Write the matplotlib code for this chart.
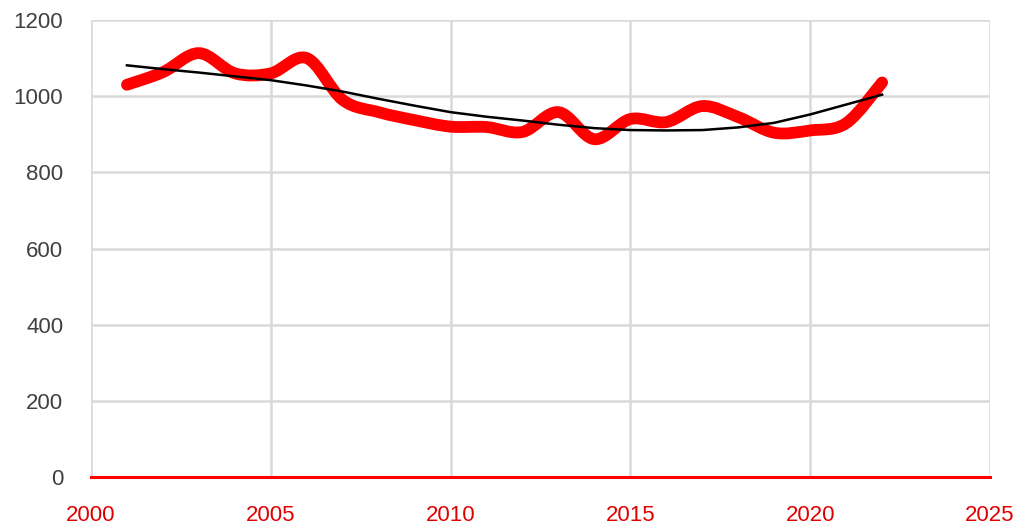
import matplotlib
matplotlib.use("Agg")
import matplotlib.pyplot as plt
from matplotlib.path import Path
from matplotlib.patches import PathPatch

years = list(range(2001, 2023))
values = [1030, 1063, 1113, 1060, 1060, 1100, 990, 958, 937, 920,
          919, 906, 958, 887, 940, 932, 974, 945, 904, 910, 929, 1036]
trend = [1081, 1071, 1062, 1052, 1042, 1028, 1012, 993, 975, 958,
         946, 936, 925, 916, 911, 910, 911, 918, 930, 952, 978, 1004]
xticks = [2000, 2005, 2010, 2015, 2020, 2025]
yticks = [0, 200, 400, 600, 800, 1000, 1200]

plt.rcParams['font.family'] = ['Liberation Sans', 'DejaVu Sans']

fig = plt.figure(figsize=(10.21, 5.24), dpi=100)
ax = fig.add_axes([91/1021, 1-477/524, (990-91)/1021, (477-20)/524])


def smooth_path(xs, ys):
    pts = list(zip(xs, ys))
    verts = [pts[0]]
    codes = [Path.MOVETO]
    n = len(pts)
    for i in range(n - 1):
        p0 = pts[i - 1] if i > 0 else pts[i]
        p1 = pts[i]
        p2 = pts[i + 1]
        p3 = pts[i + 2] if i + 2 < n else pts[i + 1]
        c1 = (p1[0] + (p2[0] - p0[0]) / 6, p1[1] + (p2[1] - p0[1]) / 6)
        c2 = (p2[0] - (p3[0] - p1[0]) / 6, p2[1] - (p3[1] - p1[1]) / 6)
        verts += [c1, c2, p2]
        codes += [Path.CURVE4] * 3
    return Path(verts, codes)


ax.add_patch(PathPatch(smooth_path(years, values), facecolor='none',
                       edgecolor='#ff0000', lw=8.5, capstyle='round',
                       joinstyle='round', zorder=3))
ax.plot(years, trend, color='black', lw=1.8, zorder=4)

ax.set_xlim(2000, 2025)
ax.set_ylim(0, 1200)
ax.set_xticks(xticks)
ax.set_yticks(yticks)
ax.grid(True, color='#d9d9d9', lw=1.8, zorder=0)
ax.set_axisbelow(True)
for s in ['top', 'right', 'left']:
    ax.spines[s].set_visible(False)
ax.spines['bottom'].set_color('#ff0000')
ax.spines['bottom'].set_linewidth(2.2)
ax.spines['bottom'].set_zorder(5)
ax.tick_params(axis='both', length=0, labelsize=16)
ax.tick_params(axis='x', colors='#e00000', pad=20)
ax.tick_params(axis='y', colors='#404040', pad=20)

fig.savefig('out.png', dpi=100)
